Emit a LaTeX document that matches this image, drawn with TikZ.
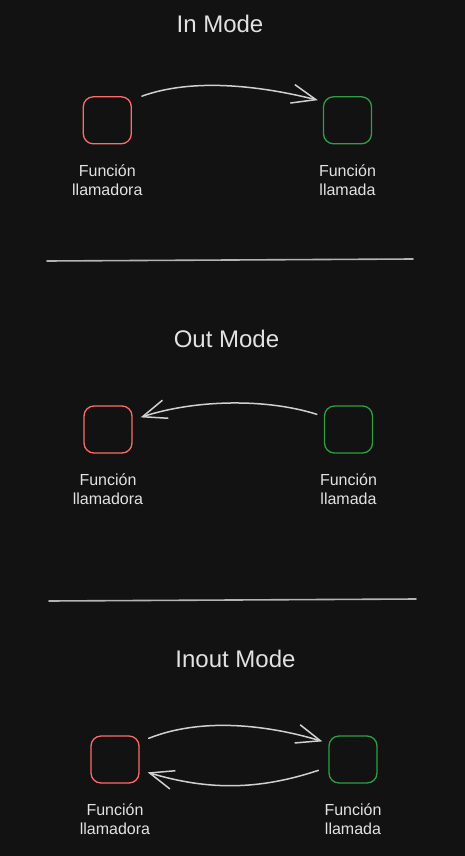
\documentclass[tikz,border=0pt]{standalone}
\usepackage{fontspec}
\setmainfont{Liberation Sans}
\usetikzlibrary{arrows.meta,positioning}
\definecolor{bg}{HTML}{121212}
\definecolor{ink}{HTML}{E2E2E2}
\definecolor{wire}{HTML}{D0D0D0}
\definecolor{rule}{HTML}{B4B4B4}
\definecolor{callerred}{HTML}{FF6B6B}
\definecolor{calleegreen}{HTML}{2F9E44}
\tikzset{
  fn/.style={draw, line width=1.3pt, rounded corners=10pt, minimum width=48pt, minimum height=47pt, inner sep=0pt},
  caller/.style={fn, draw=callerred},
  callee/.style={fn, draw=calleegreen},
  title/.style={text=ink, font=\fontsize{24}{28}\selectfont, inner sep=0pt},
  caption/.style={text=ink, font=\fontsize{16}{19}\selectfont, align=center, anchor=north, inner sep=0pt},
  flow/.style={draw=wire, line width=1.5pt, line cap=round, -{Straight Barb[length=24pt,width=19pt,line width=1.5pt]}},
  divider/.style={draw=rule, line width=1.6pt, line cap=round}
}
\begin{document}
\begin{tikzpicture}[x=1pt,y=-1pt]
  \fill[bg] (0,0) rectangle (465,856);
  \useasboundingbox (0,0) rectangle (465,856);

  % --- In mode ---
  \node[title] (t1) at (220,24) {In Mode};
  \node[caller] (a1) at (107.3,120.3) {};
  \node[callee] (b1) at (347.5,120.3) {};
  \node[caption] (la1) at ([yshift=-20pt]a1.south) {Función\\llamadora};
  \node[caption] (lb1) at ([yshift=-20pt]b1.south) {Función\\llamada};
  \draw[flow] ([xshift=10pt]a1.north east) .. controls +(50,-18) and +(-60,-15) .. ([xshift=-5pt,yshift=-4pt]b1.north west);

  \coordinate (d1s) at (47,261);
  \coordinate (d1e) at (413,259);
  \draw[divider] (d1s) -- (d1e);

  % --- Out mode ---
  \node[title] (t2) at (226.5,338.5) {Out Mode};
  \node[caller] (a2) at (108,429.5) {};
  \node[callee] (b2) at (348.5,429.5) {};
  \node[caption] (la2) at ([yshift=-20pt]a2.south) {Función\\llamadora};
  \node[caption] (lb2) at ([yshift=-20pt]b2.south) {Función\\llamada};
  \draw[flow] ([xshift=-7pt,yshift=-9pt]b2.north west) .. controls +(-50,-16) and +(55,-18) .. ([xshift=8pt,yshift=-12pt]a2.north east);

  \coordinate (d2s) at (49,601);
  \coordinate (d2e) at (416,599);
  \draw[divider] (d2s) -- (d2e);

  % --- Inout mode ---
  \node[title] (t3) at (235.5,658.5) {Inout Mode};
  \node[caller] (a3) at (115,759.5) {};
  \node[callee] (b3) at (353,759.5) {};
  \node[caption] (la3) at ([yshift=-20pt]a3.south) {Función\\llamadora};
  \node[caption] (lb3) at ([yshift=-20pt]b3.south) {Función\\llamada};
  \draw[flow] ([xshift=9pt,yshift=-3pt]a3.north east) .. controls +(50,-20) and +(-60,-18) .. ([xshift=-6pt,yshift=-6pt]b3.north west);
  \draw[flow] ([xshift=-10pt,yshift=-35pt]b3.north west) .. controls +(-60,20) and +(60,18) .. ([xshift=8pt,yshift=-37pt]a3.north east);
\end{tikzpicture}
\end{document}
